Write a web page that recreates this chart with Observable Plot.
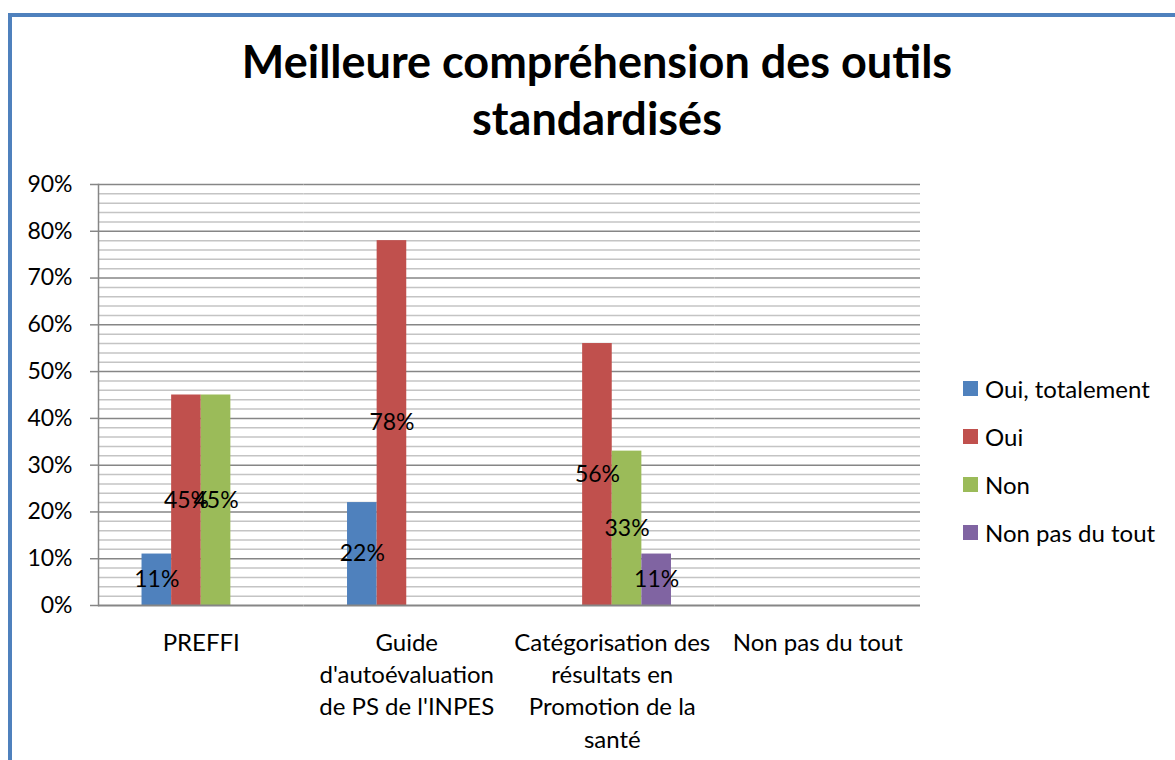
<!DOCTYPE html>
<html>
<head>
<meta charset="utf-8">
<script src="https://cdn.jsdelivr.net/npm/d3@7"></script>
<script src="https://cdn.jsdelivr.net/npm/@observablehq/plot@0.6"></script>
<style>
  html, body { margin: 0; padding: 0; background: #fff; overflow: hidden; }
  #root { position: relative; width: 1175px; height: 760px; overflow: hidden; font-family: Lato, "Open Sans", sans-serif; }
  #border { position: absolute; left: 8px; top: 13px; width: 1200px; height: 800px; border: 4px solid #4F81BD; box-sizing: border-box; }
  #title { position: absolute; left: 0; top: 33px; width: 1194px; text-align: center; font-weight: bold; font-size: 45px; line-height: 57px; color: #000; }
  #chart { position: absolute; left: 0; top: 160px; }
  #legend { position: absolute; left: 963px; top: 364px; font-size: 24px; color: #000; }
  .item { display: flex; align-items: center; height: 48px; }
  .sw { width: 15px; height: 15px; margin-right: 7px; }
</style>
</head>
<body>
<div id="root">
  <div id="border"></div>
  <div id="title"></div>
  <div id="chart"></div>
  <div id="legend"></div>
</div>
<script>
const titleLines = ["Meilleure compréhension des outils", "standardisés"];
const categories = ["PREFFI", "Guide d'autoévaluation de PS de l'INPES", "Catégorisation des résultats en Promotion de la santé", "Non pas du tout"];
const categoryLabels = ["PREFFI", "Guide\nd'autoévaluation\nde PS de l'INPES", "Catégorisation des\nrésultats en\nPromotion de la\nsanté", "Non pas du tout"];
const series = ["Oui, totalement", "Oui", "Non", "Non pas du tout"];
const ouiTotalement = [0.11, 0.22, null, null];
const oui = [0.45, 0.78, 0.56, null];
const non = [0.45, null, 0.33, null];
const nonPasDuTout = [null, null, 0.11, null];
const colors = ["#4F81BD", "#C0504D", "#9BBB59", "#8064A2"];
const yTicks = [0, 0.1, 0.2, 0.3, 0.4, 0.5, 0.6, 0.7, 0.8, 0.9];
const yMinorTicks = [0.02,0.04,0.06,0.08,0.12,0.14,0.16,0.18,0.22,0.24,0.26,0.28,0.32,0.34,0.36,0.38,0.42,0.44,0.46,0.48,0.52,0.54,0.56,0.58,0.62,0.64,0.66,0.68,0.72,0.74,0.76,0.78,0.82,0.84,0.86,0.88];

const seriesValues = [ouiTotalement, oui, non, nonPasDuTout];
const rows = [];
categories.forEach((c, i) => {
  series.forEach((s, j) => {
    const v = seriesValues[j][i];
    if (v != null) rows.push({category: c, series: s, value: v});
  });
});
// gridlines faceted per category so that every facet (even empty ones) is drawn
const minorGrid = categories.flatMap(c => yMinorTicks.map(v => ({category: c, v})));
const majorGrid = categories.flatMap(c => yTicks.slice(1).map(v => ({category: c, v})));
const baseGrid = categories.map(c => ({category: c, v: 0}));

document.getElementById("title").innerHTML = titleLines.join("<br>");

const pct = d => Math.round(d * 100) + "%";

const chart = Plot.plot({
  width: 1175,
  height: 600,
  marginLeft: 98,
  marginRight: 255,
  marginTop: 24,
  marginBottom: 155,
  style: {fontFamily: "Lato, 'Open Sans', sans-serif", fontSize: "23px", color: "#000", background: "transparent", overflow: "visible"},
  fx: {domain: categories, padding: 0, round: false, label: null, axis: null},
  x: {domain: series, paddingInner: 0, paddingOuter: 1.47, round: false, axis: null},
  y: {domain: [0, 0.9], axis: null},
  color: {domain: series, range: colors},
  marks: [
    Plot.ruleY(minorGrid, {fx: "category", y: "v", stroke: "#c4c4c4", strokeWidth: 1.5}),
    Plot.ruleY(majorGrid, {fx: "category", y: "v", stroke: "#868686", strokeWidth: 1.5}),
    Plot.barY(rows, {fx: "category", x: "series", y: "value", fill: "series", insetLeft: 0, insetRight: 0}),
    Plot.ruleY(baseGrid, {fx: "category", y: "v", stroke: "#868686", strokeWidth: 2}),
    Plot.frame({anchor: "left", facetAnchor: "left", stroke: "#868686", strokeWidth: 1.5}),
    Plot.text(rows, {fx: "category", x: "series", y: d => d.value / 2, text: d => pct(d.value), fill: "#000", fontSize: 23}),
    Plot.axisY({ticks: yTicks, tickFormat: pct, tickSize: 8, tickPadding: 18, stroke: "#868686", strokeWidth: 1.5, fontSize: 23, label: null}),
    Plot.axisFx({anchor: "bottom", tickFormat: d => categoryLabels[categories.indexOf(d)], tickSize: 0, tickPadding: 22, lineHeight: 1.35, fontSize: 24, label: null})
  ]
});
document.getElementById("chart").appendChild(chart);

const legend = document.getElementById("legend");
series.forEach((s, i) => {
  const item = document.createElement("div");
  item.className = "item";
  item.innerHTML = `<div class="sw" style="background:${colors[i]}"></div><span>${s}</span>`;
  legend.appendChild(item);
});
</script>
</body>
</html>
